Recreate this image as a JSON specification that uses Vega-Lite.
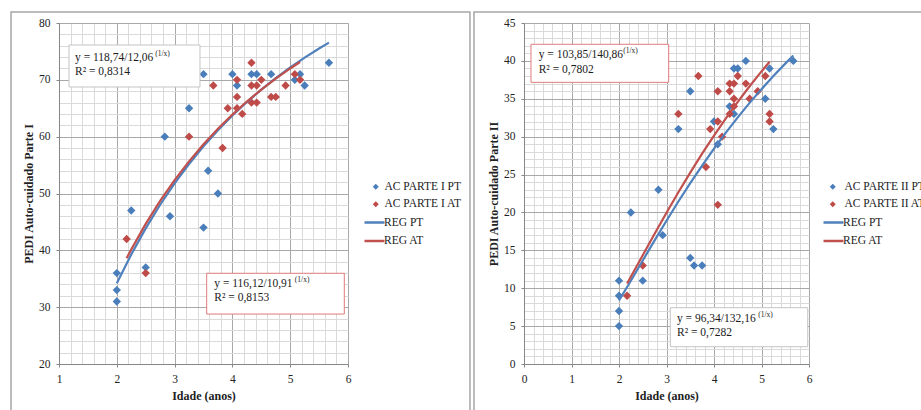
{
  "$schema": "https://vega.github.io/schema/vega-lite/v6.json",
  "background": "white",
  "padding": {"left": 10, "top": 11, "right": 0, "bottom": 0},
  "spacing": 2,
  "config": {
    "font": "Liberation Serif",
    "view": {"stroke": null},
    "axis": {
      "labelFont": "Liberation Serif", "labelFontSize": 11.5, "labelColor": "#222",
      "titleFont": "Liberation Serif", "titleFontSize": 12, "titleFontWeight": "bold", "titleColor": "#222",
      "domainColor": "#868686", "tickColor": "#868686", "tickSize": 3, "gridWidth": 1,
      "labelOverlap": false
    },
    "axisX": {"labelPadding": 6, "titlePadding": 6},
    "axisY": {"labelPadding": 6, "titlePadding": 3},
    "legend": {"labelFont": "Liberation Serif", "labelFontSize": 11.5, "labelColor": "#222", "padding": 0}
  },
  "datasets": {
    "pts1": [
      {"idade": 2, "pedi": 36, "serie": "AC PARTE I PT"},
      {"idade": 2, "pedi": 33, "serie": "AC PARTE I PT"},
      {"idade": 2, "pedi": 31, "serie": "AC PARTE I PT"},
      {"idade": 2.25, "pedi": 47, "serie": "AC PARTE I PT"},
      {"idade": 2.5, "pedi": 37, "serie": "AC PARTE I PT"},
      {"idade": 2.83, "pedi": 60, "serie": "AC PARTE I PT"},
      {"idade": 2.92, "pedi": 46, "serie": "AC PARTE I PT"},
      {"idade": 3.25, "pedi": 65, "serie": "AC PARTE I PT"},
      {"idade": 3.5, "pedi": 71, "serie": "AC PARTE I PT"},
      {"idade": 3.5, "pedi": 44, "serie": "AC PARTE I PT"},
      {"idade": 3.58, "pedi": 54, "serie": "AC PARTE I PT"},
      {"idade": 3.75, "pedi": 50, "serie": "AC PARTE I PT"},
      {"idade": 4, "pedi": 71, "serie": "AC PARTE I PT"},
      {"idade": 4.08, "pedi": 69, "serie": "AC PARTE I PT"},
      {"idade": 4.33, "pedi": 71, "serie": "AC PARTE I PT"},
      {"idade": 4.42, "pedi": 71, "serie": "AC PARTE I PT"},
      {"idade": 4.67, "pedi": 71, "serie": "AC PARTE I PT"},
      {"idade": 5.08, "pedi": 70, "serie": "AC PARTE I PT"},
      {"idade": 5.17, "pedi": 71, "serie": "AC PARTE I PT"},
      {"idade": 5.25, "pedi": 69, "serie": "AC PARTE I PT"},
      {"idade": 5.67, "pedi": 73, "serie": "AC PARTE I PT"},
      {"idade": 2.17, "pedi": 42, "serie": "AC PARTE I AT"},
      {"idade": 2.5, "pedi": 36, "serie": "AC PARTE I AT"},
      {"idade": 3.25, "pedi": 60, "serie": "AC PARTE I AT"},
      {"idade": 3.67, "pedi": 69, "serie": "AC PARTE I AT"},
      {"idade": 3.83, "pedi": 58, "serie": "AC PARTE I AT"},
      {"idade": 3.92, "pedi": 65, "serie": "AC PARTE I AT"},
      {"idade": 4.08, "pedi": 70, "serie": "AC PARTE I AT"},
      {"idade": 4.08, "pedi": 67, "serie": "AC PARTE I AT"},
      {"idade": 4.08, "pedi": 65, "serie": "AC PARTE I AT"},
      {"idade": 4.17, "pedi": 64, "serie": "AC PARTE I AT"},
      {"idade": 4.33, "pedi": 73, "serie": "AC PARTE I AT"},
      {"idade": 4.33, "pedi": 69, "serie": "AC PARTE I AT"},
      {"idade": 4.33, "pedi": 66, "serie": "AC PARTE I AT"},
      {"idade": 4.42, "pedi": 69, "serie": "AC PARTE I AT"},
      {"idade": 4.42, "pedi": 66, "serie": "AC PARTE I AT"},
      {"idade": 4.5, "pedi": 70, "serie": "AC PARTE I AT"},
      {"idade": 4.67, "pedi": 67, "serie": "AC PARTE I AT"},
      {"idade": 4.75, "pedi": 67, "serie": "AC PARTE I AT"},
      {"idade": 4.92, "pedi": 69, "serie": "AC PARTE I AT"},
      {"idade": 5.08, "pedi": 71, "serie": "AC PARTE I AT"},
      {"idade": 5.17, "pedi": 70, "serie": "AC PARTE I AT"}
    ],
    "reg1": [
      {"idade": 2.0, "pedi": 34.19, "serie": "REG PT"},
      {"idade": 2.25, "pedi": 39.26, "serie": "REG PT"},
      {"idade": 2.5, "pedi": 43.86, "serie": "REG PT"},
      {"idade": 2.75, "pedi": 48.02, "serie": "REG PT"},
      {"idade": 3.0, "pedi": 51.78, "serie": "REG PT"},
      {"idade": 3.25, "pedi": 55.19, "serie": "REG PT"},
      {"idade": 3.5, "pedi": 58.30, "serie": "REG PT"},
      {"idade": 3.75, "pedi": 61.13, "serie": "REG PT"},
      {"idade": 4.0, "pedi": 63.72, "serie": "REG PT"},
      {"idade": 4.25, "pedi": 66.09, "serie": "REG PT"},
      {"idade": 4.5, "pedi": 68.28, "serie": "REG PT"},
      {"idade": 4.75, "pedi": 70.30, "serie": "REG PT"},
      {"idade": 5.0, "pedi": 72.17, "serie": "REG PT"},
      {"idade": 5.25, "pedi": 73.90, "serie": "REG PT"},
      {"idade": 5.5, "pedi": 75.51, "serie": "REG PT"},
      {"idade": 5.67, "pedi": 76.54, "serie": "REG PT"},
      {"idade": 2.17, "pedi": 38.61, "serie": "REG AT"},
      {"idade": 2.25, "pedi": 40.15, "serie": "REG AT"},
      {"idade": 2.5, "pedi": 44.65, "serie": "REG AT"},
      {"idade": 2.75, "pedi": 48.70, "serie": "REG AT"},
      {"idade": 3.0, "pedi": 52.36, "serie": "REG AT"},
      {"idade": 3.25, "pedi": 55.66, "serie": "REG AT"},
      {"idade": 3.5, "pedi": 58.67, "serie": "REG AT"},
      {"idade": 3.75, "pedi": 61.40, "serie": "REG AT"},
      {"idade": 4.0, "pedi": 63.89, "serie": "REG AT"},
      {"idade": 4.25, "pedi": 66.18, "serie": "REG AT"},
      {"idade": 4.5, "pedi": 68.28, "serie": "REG AT"},
      {"idade": 4.75, "pedi": 70.21, "serie": "REG AT"},
      {"idade": 5.0, "pedi": 72.00, "serie": "REG AT"},
      {"idade": 5.17, "pedi": 73.14, "serie": "REG AT"}
    ],
    "pts2": [
      {"idade": 2, "pedi": 11, "serie": "AC PARTE II PT"},
      {"idade": 2, "pedi": 9, "serie": "AC PARTE II PT"},
      {"idade": 2, "pedi": 7, "serie": "AC PARTE II PT"},
      {"idade": 2, "pedi": 5, "serie": "AC PARTE II PT"},
      {"idade": 2.25, "pedi": 20, "serie": "AC PARTE II PT"},
      {"idade": 2.5, "pedi": 11, "serie": "AC PARTE II PT"},
      {"idade": 2.83, "pedi": 23, "serie": "AC PARTE II PT"},
      {"idade": 2.92, "pedi": 17, "serie": "AC PARTE II PT"},
      {"idade": 3.25, "pedi": 31, "serie": "AC PARTE II PT"},
      {"idade": 3.5, "pedi": 36, "serie": "AC PARTE II PT"},
      {"idade": 3.5, "pedi": 14, "serie": "AC PARTE II PT"},
      {"idade": 3.58, "pedi": 13, "serie": "AC PARTE II PT"},
      {"idade": 3.75, "pedi": 13, "serie": "AC PARTE II PT"},
      {"idade": 4, "pedi": 32, "serie": "AC PARTE II PT"},
      {"idade": 4.08, "pedi": 29, "serie": "AC PARTE II PT"},
      {"idade": 4.33, "pedi": 34, "serie": "AC PARTE II PT"},
      {"idade": 4.42, "pedi": 39, "serie": "AC PARTE II PT"},
      {"idade": 4.42, "pedi": 33, "serie": "AC PARTE II PT"},
      {"idade": 4.5, "pedi": 39, "serie": "AC PARTE II PT"},
      {"idade": 4.67, "pedi": 40, "serie": "AC PARTE II PT"},
      {"idade": 5.08, "pedi": 35, "serie": "AC PARTE II PT"},
      {"idade": 5.17, "pedi": 39, "serie": "AC PARTE II PT"},
      {"idade": 5.25, "pedi": 31, "serie": "AC PARTE II PT"},
      {"idade": 5.67, "pedi": 40, "serie": "AC PARTE II PT"},
      {"idade": 2.17, "pedi": 9, "serie": "AC PARTE II AT"},
      {"idade": 2.5, "pedi": 13, "serie": "AC PARTE II AT"},
      {"idade": 3.25, "pedi": 33, "serie": "AC PARTE II AT"},
      {"idade": 3.67, "pedi": 38, "serie": "AC PARTE II AT"},
      {"idade": 3.83, "pedi": 26, "serie": "AC PARTE II AT"},
      {"idade": 3.92, "pedi": 31, "serie": "AC PARTE II AT"},
      {"idade": 4.08, "pedi": 36, "serie": "AC PARTE II AT"},
      {"idade": 4.08, "pedi": 32, "serie": "AC PARTE II AT"},
      {"idade": 4.08, "pedi": 21, "serie": "AC PARTE II AT"},
      {"idade": 4.17, "pedi": 30, "serie": "AC PARTE II AT"},
      {"idade": 4.33, "pedi": 37, "serie": "AC PARTE II AT"},
      {"idade": 4.33, "pedi": 36, "serie": "AC PARTE II AT"},
      {"idade": 4.33, "pedi": 33, "serie": "AC PARTE II AT"},
      {"idade": 4.42, "pedi": 37, "serie": "AC PARTE II AT"},
      {"idade": 4.42, "pedi": 35, "serie": "AC PARTE II AT"},
      {"idade": 4.42, "pedi": 34, "serie": "AC PARTE II AT"},
      {"idade": 4.5, "pedi": 38, "serie": "AC PARTE II AT"},
      {"idade": 4.67, "pedi": 37, "serie": "AC PARTE II AT"},
      {"idade": 4.75, "pedi": 35, "serie": "AC PARTE II AT"},
      {"idade": 4.92, "pedi": 36, "serie": "AC PARTE II AT"},
      {"idade": 5.08, "pedi": 38, "serie": "AC PARTE II AT"},
      {"idade": 5.17, "pedi": 33, "serie": "AC PARTE II AT"},
      {"idade": 5.17, "pedi": 32, "serie": "AC PARTE II AT"}
    ],
    "reg2": [
      {"idade": 2.0, "pedi": 8.38, "serie": "REG PT"},
      {"idade": 2.25, "pedi": 10.99, "serie": "REG PT"},
      {"idade": 2.5, "pedi": 13.66, "serie": "REG PT"},
      {"idade": 2.75, "pedi": 16.31, "serie": "REG PT"},
      {"idade": 3.0, "pedi": 18.91, "serie": "REG PT"},
      {"idade": 3.25, "pedi": 21.44, "serie": "REG PT"},
      {"idade": 3.5, "pedi": 23.87, "serie": "REG PT"},
      {"idade": 3.75, "pedi": 26.19, "serie": "REG PT"},
      {"idade": 4.0, "pedi": 28.41, "serie": "REG PT"},
      {"idade": 4.25, "pedi": 30.53, "serie": "REG PT"},
      {"idade": 4.5, "pedi": 32.54, "serie": "REG PT"},
      {"idade": 4.75, "pedi": 34.46, "serie": "REG PT"},
      {"idade": 5.0, "pedi": 36.27, "serie": "REG PT"},
      {"idade": 5.25, "pedi": 38.00, "serie": "REG PT"},
      {"idade": 5.5, "pedi": 39.64, "serie": "REG PT"},
      {"idade": 5.67, "pedi": 40.71, "serie": "REG PT"},
      {"idade": 2.17, "pedi": 10.62, "serie": "REG AT"},
      {"idade": 2.25, "pedi": 11.52, "serie": "REG AT"},
      {"idade": 2.5, "pedi": 14.35, "serie": "REG AT"},
      {"idade": 2.75, "pedi": 17.18, "serie": "REG AT"},
      {"idade": 3.0, "pedi": 19.96, "serie": "REG AT"},
      {"idade": 3.25, "pedi": 22.66, "serie": "REG AT"},
      {"idade": 3.5, "pedi": 25.26, "serie": "REG AT"},
      {"idade": 3.75, "pedi": 27.76, "serie": "REG AT"},
      {"idade": 4.0, "pedi": 30.15, "serie": "REG AT"},
      {"idade": 4.25, "pedi": 32.42, "serie": "REG AT"},
      {"idade": 4.5, "pedi": 34.59, "serie": "REG AT"},
      {"idade": 4.75, "pedi": 36.65, "serie": "REG AT"},
      {"idade": 5.0, "pedi": 38.61, "serie": "REG AT"},
      {"idade": 5.17, "pedi": 39.88, "serie": "REG AT"}
    ]
  },
  "resolve": {"scale": {"color": "independent", "stroke": "independent"}, "legend": {"color": "independent", "stroke": "independent"}},
  "hconcat": [
    {
      "width": 289, "height": 341,
      "layer": [
        {
          "data": {"name": "pts1"},
          "mark": {"type": "point", "shape": "diamond", "filled": true, "size": 70, "opacity": 1},
          "encoding": {
            "x": {"field": "idade", "type": "quantitative",
              "scale": {"domain": [1, 6], "nice": false, "zero": false},
              "axis": {"title": "Idade (anos)", "grid": true, "labelOverlap": false, "labelFlush": false, "tickCount": 25,
                "labelExpr": "abs(datum.value - round(datum.value)) < 0.001 ? format(datum.value, 'd') : ''",
                "gridColor": {"condition": {"test": "abs(datum.value - round(datum.value)) < 0.001", "value": "#a8a8a8"}, "value": "#dadada"},
                "tickOpacity": {"condition": {"test": "abs(datum.value - round(datum.value)) < 0.001", "value": 1}, "value": 0}}},
            "y": {"field": "pedi", "type": "quantitative",
              "scale": {"domain": [20, 80], "nice": false, "zero": false},
              "axis": {"title": "PEDI Auto-cuidado Parte I", "grid": true, "labelOverlap": false, "format": "d", "tickCount": 200,
                "values": [20,22,24,26,28,30,32,34,36,38,40,42,44,46,48,50,52,54,56,58,60,62,64,66,68,70,72,74,76,78,80],
                "labelExpr": "datum.value % 10 === 0 ? datum.label : ''",
                "gridColor": {"condition": {"test": "datum.value % 10 === 0", "value": "#a8a8a8"}, "value": "#dadada"},
                "tickOpacity": {"condition": {"test": "datum.value % 10 === 0", "value": 1}, "value": 0}}},
            "color": {"field": "serie", "type": "nominal",
              "scale": {"domain": ["AC PARTE I PT", "AC PARTE I AT"], "range": ["#4A7EBB", "#BE4B48"]},
              "legend": {"orient": "none", "legendX": 311, "legendY": 158, "title": null, "symbolType": "diamond", "symbolSize": 36, "labelOffset": 3, "rowPadding": 4.5}}
          }
        },
        {
          "data": {"values": [{}]},
          "mark": {"type": "rect", "fillOpacity": 0, "stroke": "#a6a6a6", "strokeWidth": 1.5, "clip": false},
          "encoding": {"x": {"datum": 0.17}, "x2": {"datum": 8.11}, "y": {"datum": 81.94}, "y2": {"datum": 10.14}}
        },
        {
          "data": {"name": "reg1"},
          "mark": {"type": "line", "strokeWidth": 2.2},
          "encoding": {
            "x": {"field": "idade", "type": "quantitative"},
            "y": {"field": "pedi", "type": "quantitative"},
            "stroke": {"field": "serie", "type": "nominal",
              "scale": {"domain": ["REG PT", "REG AT"], "range": ["#4F81BD", "#C0504D"]},
              "legend": {"orient": "none", "legendX": 304, "legendY": 188, "title": null, "symbolType": "stroke", "symbolSize": 400, "symbolStrokeWidth": 2.5, "labelOffset": -2, "rowPadding": 1.5}}
          }
        },
        {
          "data": {"values": [{}]},
          "mark": {"type": "rect", "fill": "white", "stroke": "#c4c4c4", "strokeWidth": 1},
          "encoding": {"x": {"datum": 1.173}, "x2": {"datum": 3.439}, "y": {"datum": 76.13}, "y2": {"datum": 68.74}}
        },
        {
          "data": {"values": [{}]},
          "mark": {"type": "text", "align": "left", "baseline": "alphabetic", "fontSize": 11.5, "lineHeight": 14, "color": "#1a1a1a"},
          "encoding": {"x": {"datum": 1.277}, "y": {"datum": 73.31}, "text": {"value": ["y = 118,74/12,06", "R² = 0,8314"]}}
        },
        {
          "data": {"values": [{}]},
          "mark": {"type": "text", "align": "left", "baseline": "alphabetic", "fontSize": 7.5, "color": "#1a1a1a"},
          "encoding": {"x": {"datum": 2.665}, "y": {"datum": 74.19}, "text": {"value": "(1/x)"}}
        },
        {
          "data": {"values": [{}]},
          "mark": {"type": "rect", "fill": "white", "stroke": "#e07b7b", "strokeWidth": 1},
          "encoding": {"x": {"datum": 3.555}, "x2": {"datum": 5.936}, "y": {"datum": 35.96}, "y2": {"datum": 28.79}}
        },
        {
          "data": {"values": [{}]},
          "mark": {"type": "text", "align": "left", "baseline": "alphabetic", "fontSize": 11.5, "lineHeight": 14, "color": "#1a1a1a"},
          "encoding": {"x": {"datum": 3.687}, "y": {"datum": 33.55}, "text": {"value": ["y = 116,12/10,91", "R² = 0,8153"]}}
        },
        {
          "data": {"values": [{}]},
          "mark": {"type": "text", "align": "left", "baseline": "alphabetic", "fontSize": 7.5, "color": "#1a1a1a"},
          "encoding": {"x": {"datum": 5.08}, "y": {"datum": 34.43}, "text": {"value": "(1/x)"}}
        }
      ]
    },
    {
      "width": 285, "height": 341,
      "layer": [
        {
          "data": {"name": "pts2"},
          "mark": {"type": "point", "shape": "diamond", "filled": true, "size": 70, "opacity": 1},
          "encoding": {
            "x": {"field": "idade", "type": "quantitative",
              "scale": {"domain": [0, 6], "nice": false, "zero": false},
              "axis": {"title": "Idade (anos)", "grid": true, "labelOverlap": false, "labelFlush": false, "tickCount": 30,
                "labelExpr": "abs(datum.value - round(datum.value)) < 0.001 ? format(datum.value, 'd') : ''",
                "gridColor": {"condition": {"test": "abs(datum.value - round(datum.value)) < 0.001", "value": "#a8a8a8"}, "value": "#dadada"},
                "tickOpacity": {"condition": {"test": "abs(datum.value - round(datum.value)) < 0.001", "value": 1}, "value": 0}}},
            "y": {"field": "pedi", "type": "quantitative",
              "scale": {"domain": [0, 45], "nice": false, "zero": false},
              "axis": {"title": "PEDI Auto-cuidado Parte II", "grid": true, "labelOverlap": false, "format": "d", "tickCount": 200,
                "values": [0,1,2,3,4,5,6,7,8,9,10,11,12,13,14,15,16,17,18,19,20,21,22,23,24,25,26,27,28,29,30,31,32,33,34,35,36,37,38,39,40,41,42,43,44,45],
                "labelExpr": "datum.value % 5 === 0 ? datum.label : ''",
                "gridColor": {"condition": {"test": "datum.value % 5 === 0", "value": "#a8a8a8"}, "value": "#dadada"},
                "tickOpacity": {"condition": {"test": "datum.value % 5 === 0", "value": 1}, "value": 0}}},
            "color": {"field": "serie", "type": "nominal",
              "scale": {"domain": ["AC PARTE II PT", "AC PARTE II AT"], "range": ["#4A7EBB", "#BE4B48"]},
              "legend": {"orient": "none", "legendX": 303, "legendY": 158, "title": null, "symbolType": "diamond", "symbolSize": 36, "labelOffset": 6, "rowPadding": 4.5}}
          }
        },
        {
          "data": {"values": [{}]},
          "mark": {"type": "rect", "fillOpacity": 0, "stroke": "#a6a6a6", "strokeWidth": 1.5, "clip": false},
          "encoding": {"x": {"datum": -1.053}, "x2": {"datum": 8.61}, "y": {"datum": 46.45}, "y2": {"datum": -7.39}}
        },
        {
          "data": {"name": "reg2"},
          "mark": {"type": "line", "strokeWidth": 2.2},
          "encoding": {
            "x": {"field": "idade", "type": "quantitative"},
            "y": {"field": "pedi", "type": "quantitative"},
            "stroke": {"field": "serie", "type": "nominal",
              "scale": {"domain": ["REG PT", "REG AT"], "range": ["#4F81BD", "#C0504D"]},
              "legend": {"orient": "none", "legendX": 298, "legendY": 188, "title": null, "symbolType": "stroke", "symbolSize": 400, "symbolStrokeWidth": 2.5, "labelOffset": -2, "rowPadding": 1.5}}
          }
        },
        {
          "data": {"values": [{}]},
          "mark": {"type": "rect", "fill": "white", "stroke": "#e07b7b", "strokeWidth": 1},
          "encoding": {"x": {"datum": 0.147}, "x2": {"datum": 3.046}, "y": {"datum": 42.19}, "y2": {"datum": 37.17}}
        },
        {
          "data": {"values": [{}]},
          "mark": {"type": "text", "align": "left", "baseline": "alphabetic", "fontSize": 11.5, "lineHeight": 14.5, "color": "#1a1a1a"},
          "encoding": {"x": {"datum": 0.309}, "y": {"datum": 40.38}, "text": {"value": ["y = 103,85/140,86", "R² = 0,7802"]}}
        },
        {
          "data": {"values": [{}]},
          "mark": {"type": "text", "align": "left", "baseline": "alphabetic", "fontSize": 7.5, "color": "#1a1a1a"},
          "encoding": {"x": {"datum": 2.09}, "y": {"datum": 41.04}, "text": {"value": "(1/x)"}}
        },
        {
          "data": {"values": [{}]},
          "mark": {"type": "rect", "fill": "white", "stroke": "#c4c4c4", "strokeWidth": 1},
          "encoding": {"x": {"datum": 3.08}, "x2": {"datum": 5.973}, "y": {"datum": 7.43}, "y2": {"datum": 2.28}}
        },
        {
          "data": {"values": [{}]},
          "mark": {"type": "text", "align": "left", "baseline": "alphabetic", "fontSize": 11.5, "lineHeight": 14, "color": "#1a1a1a"},
          "encoding": {"x": {"datum": 3.221}, "y": {"datum": 5.54}, "text": {"value": ["y = 96,34/132,16", "R² = 0,7282"]}}
        },
        {
          "data": {"values": [{}]},
          "mark": {"type": "text", "align": "left", "baseline": "alphabetic", "fontSize": 7.5, "color": "#1a1a1a"},
          "encoding": {"x": {"datum": 4.93}, "y": {"datum": 6.20}, "text": {"value": "(1/x)"}}
        }
      ]
    }
  ]
}
